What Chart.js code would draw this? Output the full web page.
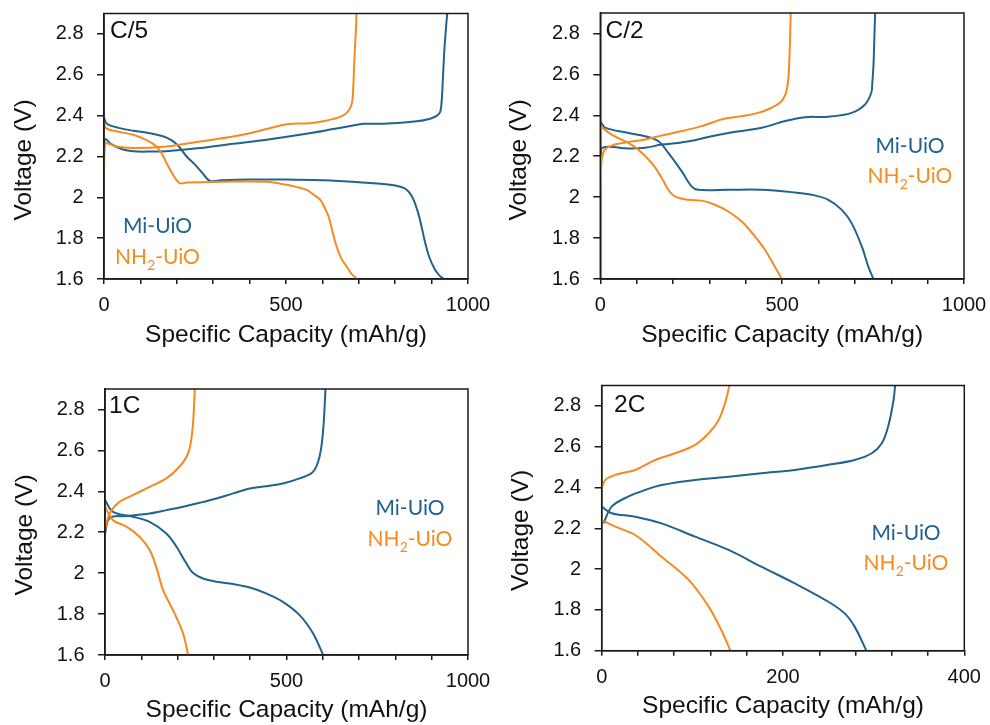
<!DOCTYPE html>
<html>
<head>
<meta charset="utf-8">
<script src="https://cdn.jsdelivr.net/npm/chart.js@4.4.1/dist/chart.umd.min.js"></script>
<style>
  html, body { margin: 0; padding: 0; background: #ffffff; }
  #wrap { position: relative; width: 990px; height: 725px; overflow: hidden; }
  .panel { position: absolute; }
  .panel canvas { display: block; }
</style>
</head>
<body>
<div id="wrap">
  <div class="panel" style="left:0;top:0"><canvas id="p1" width="495" height="362"></canvas></div>
  <div class="panel" style="left:495px;top:0"><canvas id="p2" width="495" height="362"></canvas></div>
  <div class="panel" style="left:0;top:362px"><canvas id="p3" width="495" height="363"></canvas></div>
  <div class="panel" style="left:495px;top:362px"><canvas id="p4" width="495" height="363"></canvas></div>
</div>
<script>
// ---- Data: [specific capacity (mAh/g), voltage (V)] ----
const rateLabels = ['C/5', 'C/2', '1C', '2C'];
const seriesNames = ['Mi-UiO', 'NH2-UiO'];

const voltageTicks = [1.6, 1.8, 2.0, 2.2, 2.4, 2.6, 2.8];
const capacityTicks1000 = [0, 100, 200, 300, 400, 500, 600, 700, 800, 900, 1000];
const capacityLabels1000 = [0, 500, 1000];
const capacityTicks400 = [0, 40, 80, 120, 160, 200, 240, 280, 320, 360, 400];
const capacityLabels400 = [0, 200, 400];

// C/5
const c5MiDischarge = [[0,2.39],[8,2.36],[40,2.34],[80,2.326],[126,2.314],[160,2.30],[185,2.28],[205,2.25],[227,2.20],[250,2.16],[270,2.12],[291,2.08],[320,2.083],[400,2.087],[500,2.087],[600,2.083],[700,2.074],[760,2.066],[800,2.058],[825,2.045],[838,2.025],[850,1.99],[862,1.93],[872,1.86],[882,1.78],[893,1.71],[908,1.65],[920,1.62],[933,1.60]];
const c5MiCharge = [[0,2.25],[4,2.285],[20,2.26],[50,2.235],[80,2.225],[130,2.224],[170,2.226],[263,2.241],[355,2.262],[447,2.282],[538,2.306],[630,2.334],[680,2.35],[713,2.36],[768,2.36],[859,2.372],[896,2.385],[915,2.40],[924,2.42],[928,2.48],[931,2.58],[935,2.72],[940,2.84],[944,2.92]];
const c5NhDischarge = [[0,2.375],[5,2.34],[34,2.323],[80,2.306],[117,2.28],[144,2.249],[160,2.21],[172,2.167],[190,2.11],[208,2.069],[227,2.072],[355,2.077],[447,2.076],[502,2.061],[530,2.05],[557,2.036],[578,2.01],[594,1.987],[606,1.95],[617,1.906],[628,1.83],[639,1.759],[652,1.70],[667,1.66],[680,1.625],[695,1.60]];
const c5NhCharge = [[0,2.13],[3,2.26],[10,2.265],[30,2.25],[80,2.241],[172,2.249],[263,2.273],[355,2.298],[401,2.314],[447,2.334],[502,2.358],[566,2.363],[612,2.376],[650,2.395],[670,2.42],[681,2.46],[685,2.55],[688,2.68],[692,2.82],[694,2.92]];

// C/2
const c2MiDischarge = [[0,2.372],[13,2.34],[77,2.314],[123,2.298],[160,2.273],[187,2.216],[224,2.126],[251,2.053],[269,2.036],[352,2.036],[444,2.036],[535,2.023],[581,2.012],[627,1.987],[664,1.938],[691,1.873],[719,1.759],[737,1.66],[751,1.60]];
const c2MiCharge = [[0,2.167],[4,2.24],[77,2.238],[123,2.241],[169,2.257],[214,2.265],[260,2.278],[306,2.298],[352,2.314],[444,2.339],[508,2.372],[563,2.391],[627,2.393],[691,2.412],[728,2.453],[745,2.51],[748,2.56],[751,2.64],[753,2.75],[756,2.92]];
const c2NhDischarge = [[0,2.347],[31,2.306],[77,2.265],[104,2.233],[141,2.167],[169,2.094],[187,2.036],[205,2.004],[242,1.987],[279,1.983],[315,1.963],[352,1.93],[389,1.881],[425,1.808],[453,1.742],[480,1.66],[499,1.60]];
const c2NhCharge = [[0,2.036],[4,2.184],[13,2.233],[40,2.257],[77,2.269],[123,2.282],[169,2.301],[224,2.323],[279,2.347],[334,2.38],[389,2.396],[434,2.412],[471,2.437],[499,2.47],[513,2.527],[519,2.64],[524,2.92]];

// 1C
const c1MiDischarge = [[0,2.357],[22,2.30],[77,2.276],[123,2.251],[169,2.194],[197,2.129],[224,2.048],[242,2.002],[270,1.974],[307,1.958],[353,1.947],[399,1.93],[444,1.901],[490,1.86],[536,1.795],[573,1.706],[601,1.60]];
const c1MiCharge = [[0,2.194],[13,2.27],[59,2.279],[123,2.292],[169,2.308],[215,2.325],[261,2.344],[307,2.365],[353,2.39],[399,2.414],[444,2.425],[490,2.438],[536,2.463],[573,2.495],[591,2.569],[601,2.70],[608,2.92]];
const c1NhDischarge = [[0,2.325],[22,2.259],[59,2.227],[95,2.178],[123,2.113],[141,2.031],[160,1.917],[178,1.852],[196,1.787],[215,1.706],[229,1.60]];
const c1NhCharge = [[0,2.211],[13,2.292],[40,2.349],[77,2.381],[123,2.422],[169,2.463],[205,2.52],[229,2.585],[241,2.70],[248,2.92]];

// 2C
const c2cMiDischarge = [[0,2.306],[11,2.274],[37,2.257],[66,2.224],[103,2.159],[140,2.094],[176,2.012],[213,1.93],[250,1.84],[268,1.783],[279,1.718],[292,1.60]];
const c2cMiCharge = [[2,2.224],[11,2.306],[29,2.355],[48,2.388],[66,2.412],[103,2.437],[140,2.453],[176,2.47],[213,2.486],[250,2.511],[279,2.535],[298,2.568],[309,2.617],[316,2.699],[322,2.83],[324,2.92]];
const c2cNhDischarge = [[0,2.24],[15,2.208],[37,2.167],[66,2.061],[96,1.947],[118,1.816],[132,1.70],[142,1.60]];
const c2cNhCharge = [[0,2.396],[4,2.437],[15,2.462],[37,2.486],[59,2.535],[81,2.568],[103,2.609],[118,2.666],[129,2.731],[136,2.813],[142,2.92]];

// ---- Styling ----
const BLUE = '#22628c';
const ORANGE = '#f58a1f';
const INK = '#1a1a1a';
const AXIS_FONT = '"Liberation Sans", Arial, Helvetica, sans-serif';
const LABEL_FONT = 'Lato, "Open Sans", sans-serif';

// Per-panel layout (canvas pixels)
const panels = [
  { id: 'p1', rate: rateLabels[0], curves: [c5MiDischarge, c5MiCharge, c5NhDischarge, c5NhCharge],
    xMax: 1000, xTicks: capacityTicks1000, xLabels: capacityLabels1000,
    area: { left: 104, right: 27, top: 13.5, bottom: 83 },
    rateAt: [110, 38.3], yTitleAt: [24, 160], xTitleY: 335.4, legend: { cx: 157.5, y1: 233.3, y2: 264 } },
  { id: 'p2', rate: rateLabels[1], curves: [c2MiDischarge, c2MiCharge, c2NhDischarge, c2NhCharge],
    xMax: 1000, xTicks: capacityTicks1000, xLabels: capacityLabels1000,
    area: { left: 105.3, right: 26, top: 13, bottom: 83 },
    rateAt: [110.5, 38], yTitleAt: [24, 160], xTitleY: 335, legend: { cx: 415, y1: 153.3, y2: 183 } },
  { id: 'p3', rate: rateLabels[2], curves: [c1MiDischarge, c1MiCharge, c1NhDischarge, c1NhCharge],
    xMax: 1000, xTicks: capacityTicks1000, xLabels: capacityLabels1000,
    area: { left: 105, right: 27, top: 27, bottom: 70 },
    rateAt: [109, 51], yTitleAt: [25, 173], xTitleY: 348, legend: { cx: 410, y1: 153, y2: 184 } },
  { id: 'p4', rate: rateLabels[3], curves: [c2cMiDischarge, c2cMiCharge, c2cNhDischarge, c2cNhCharge],
    xMax: 400, xTicks: capacityTicks400, xLabels: capacityLabels400,
    area: { left: 106.7, right: 25.7, top: 23.5, bottom: 74.3 },
    rateAt: [119, 50], yTitleAt: [26, 168.5], xTitleY: 344.3, legend: { cx: 411, y1: 178, y2: 208 } }
];

// Frame, rate label, axis titles and series labels
const panelDecor = {
  id: 'panelDecor',
  afterDatasetsDraw(chart, args, o) {
    const { ctx, chartArea: a } = chart;
    ctx.save();
    ctx.strokeStyle = INK;
    ctx.lineWidth = 1.5;
    ctx.strokeRect(a.left, a.top, a.right - a.left, a.bottom - a.top);

    ctx.fillStyle = '#111111';
    ctx.font = '24.5px ' + AXIS_FONT;
    ctx.textAlign = 'left';
    ctx.textBaseline = 'alphabetic';
    ctx.fillText(o.rate, o.rateAt[0], o.rateAt[1]);

    ctx.textAlign = 'center';
    ctx.textBaseline = 'middle';
    ctx.fillText('Specific Capacity (mAh/g)', (a.left + a.right) / 2, o.xTitleY);

    ctx.save();
    ctx.translate(o.yTitleAt[0], o.yTitleAt[1]);
    ctx.rotate(-Math.PI / 2);
    ctx.fillText('Voltage (V)', 0, 0);
    ctx.restore();

    // series labels
    const big = '21px ' + LABEL_FONT;
    const sub = '14px ' + LABEL_FONT;
    ctx.textBaseline = 'alphabetic';
    ctx.textAlign = 'left';
    ctx.font = big;
    const w1 = ctx.measureText(seriesNames[0]).width;
    ctx.fillStyle = BLUE;
    ctx.fillText(seriesNames[0], o.legend.cx - w1 / 2, o.legend.y1);

    const [head, tail] = ['NH', '-UiO'];
    const wHead = ctx.measureText(head).width;
    const wTail = ctx.measureText(tail).width;
    ctx.font = sub;
    const wSub = ctx.measureText('2').width;
    const total = wHead + wSub + wTail;
    let x = o.legend.cx - total / 2;
    ctx.fillStyle = ORANGE;
    ctx.font = big;
    ctx.fillText(head, x, o.legend.y2);
    x += wHead;
    ctx.font = sub;
    ctx.fillText('2', x, o.legend.y2 + 6);
    x += wSub;
    ctx.font = big;
    ctx.fillText(tail, x, o.legend.y2);
    ctx.restore();
  }
};

const toPoints = (arr) => arr.map(([x, y]) => ({ x, y }));
const fmtV = (v) => String(Math.round(v * 10) / 10);

function buildPanel(p) {
  const colors = [BLUE, BLUE, ORANGE, ORANGE];
  const datasets = p.curves.map((c, i) => ({
    data: toPoints(c),
    borderColor: colors[i],
    backgroundColor: colors[i],
    borderWidth: 2,
    showLine: true,
    pointRadius: 0,
    tension: 0.35,
    fill: false,
    order: i < 2 ? 2 : 1
  }));

  const a = p.area;
  new Chart(document.getElementById(p.id), {
    type: 'scatter',
    data: { datasets },
    plugins: [panelDecor],
    options: {
      responsive: false,
      devicePixelRatio: 1,
      animation: false,
      events: [],
      layout: { padding: { left: 0, right: a.right, top: a.top, bottom: 0 } },
      plugins: {
        legend: { display: false },
        tooltip: { enabled: false },
        panelDecor: { rate: p.rate, rateAt: p.rateAt, yTitleAt: p.yTitleAt, xTitleY: p.xTitleY, legend: p.legend }
      },
      scales: {
        x: {
          type: 'linear', position: 'bottom', min: 0, max: p.xMax,
          afterBuildTicks: (s) => { s.ticks = p.xTicks.map(v => ({ value: v })); },
          afterFit: (s) => { s.height = a.bottom; s.paddingLeft = 0; s.paddingRight = 0; s.paddingTop = 0; s.paddingBottom = 0; },
          grid: { drawOnChartArea: false, drawTicks: true, tickLength: 5, color: INK, lineWidth: 1.5 },
          border: { display: true, color: INK, width: 1.5 },
          ticks: {
            autoSkip: false, maxRotation: 0, minRotation: 0, padding: 11.5, color: '#111111',
            font: { family: AXIS_FONT, size: 20, lineHeight: 1 },
            callback: (v) => (p.xLabels.includes(v) ? String(v) : '')
          },
          title: { display: false }
        },
        y: {
          type: 'linear', position: 'left', min: 1.6, max: 2.9,
          afterBuildTicks: (s) => { s.ticks = voltageTicks.map(v => ({ value: v })); },
          afterFit: (s) => { s.width = a.left; s.paddingLeft = 0; s.paddingRight = 0; s.paddingTop = 0; s.paddingBottom = 0; },
          grid: { drawOnChartArea: false, drawTicks: true, tickLength: 7, color: INK, lineWidth: 1.5 },
          border: { display: true, color: INK, width: 1.5 },
          ticks: {
            autoSkip: false, padding: 13.5, color: '#111111',
            font: { family: AXIS_FONT, size: 20, lineHeight: 1 },
            callback: (v) => fmtV(v)
          },
          title: { display: false }
        }
      }
    }
  });
}

panels.forEach(buildPanel);
</script>
</body>
</html>
